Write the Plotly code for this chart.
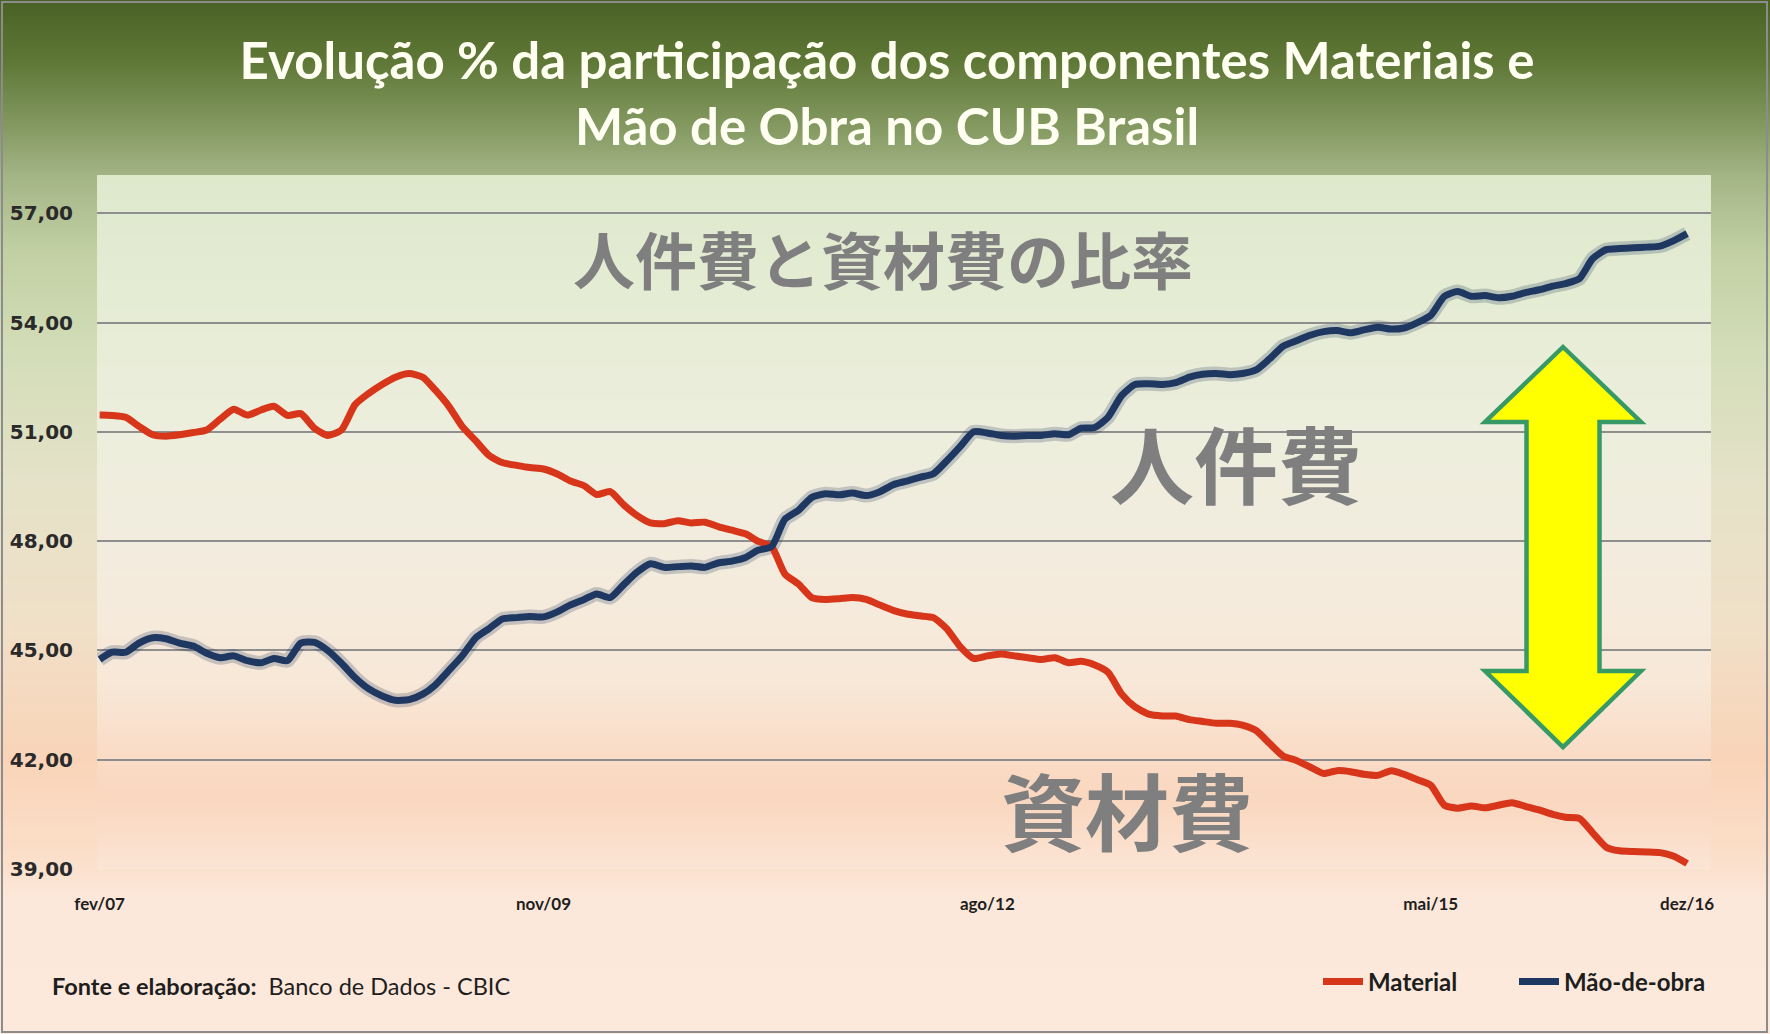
import base64
import struct
import zlib

import pandas as pd
import plotly.graph_objects as go

# ---------------- data ----------------
months = pd.date_range("2007-02-01", "2016-12-01", freq="MS")

material = [
    51.46, 51.45, 51.40, 51.15, 50.92, 50.88, 50.92, 50.98, 51.05, 51.35,
    51.62, 51.46, 51.60, 51.70, 51.45, 51.50, 51.10, 50.90, 51.05, 51.75,
    52.05, 52.30, 52.50, 52.60, 52.50, 52.15, 51.70, 51.15, 50.75, 50.35,
    50.15, 50.08, 50.02, 49.98, 49.85, 49.65, 49.52, 49.28, 49.36, 49.00,
    48.70, 48.50, 48.48, 48.56, 48.50, 48.52, 48.40, 48.30, 48.20, 48.00,
    47.85, 47.10, 46.82, 46.45, 46.40, 46.42, 46.45, 46.40, 46.25, 46.10,
    46.00, 45.95, 45.90, 45.60, 45.10, 44.78, 44.85, 44.90, 44.85, 44.80,
    44.75, 44.80, 44.66, 44.70, 44.60, 44.40, 43.80, 43.45, 43.25, 43.20,
    43.20, 43.10, 43.05, 43.00, 43.00, 42.95, 42.80, 42.45, 42.10, 41.98,
    41.80, 41.62, 41.70, 41.67, 41.60, 41.57, 41.70, 41.60, 41.45, 41.30,
    40.75, 40.67, 40.73, 40.68, 40.75, 40.82, 40.72, 40.62, 40.50, 40.42,
    40.39, 40.00, 39.60, 39.50, 39.48, 39.47, 39.45, 39.35, 39.15,
]

mao_de_obra = [
    44.75, 44.95, 44.95, 45.20, 45.35, 45.32, 45.20, 45.12, 44.92, 44.80,
    44.85, 44.72, 44.66, 44.78, 44.72, 45.20, 45.22, 45.00, 44.65, 44.25,
    43.95, 43.75, 43.63, 43.65, 43.80, 44.05, 44.45, 44.85, 45.35, 45.60,
    45.87, 45.90, 45.93, 45.92, 46.05, 46.25, 46.40, 46.55, 46.45, 46.80,
    47.15, 47.38, 47.28, 47.30, 47.32, 47.28, 47.40, 47.45, 47.55, 47.75,
    47.85, 48.60, 48.85, 49.20, 49.30, 49.27, 49.32, 49.25, 49.35, 49.55,
    49.65, 49.75, 49.85, 50.20, 50.60, 51.00, 50.97, 50.90, 50.88, 50.90,
    50.90, 50.95, 50.92, 51.10, 51.12, 51.40, 52.00, 52.30, 52.32, 52.30,
    52.35, 52.50, 52.58, 52.60, 52.57, 52.60, 52.70, 53.00, 53.35, 53.50,
    53.65, 53.75, 53.78, 53.72, 53.80, 53.87, 53.82, 53.85, 54.00, 54.20,
    54.72, 54.85, 54.72, 54.74, 54.68, 54.72, 54.82, 54.90, 55.00, 55.07,
    55.20, 55.75, 56.00, 56.03, 56.05, 56.07, 56.10, 56.25, 56.44,
]

tick_dates = ["2007-02-01", "2009-11-01", "2012-08-01", "2015-05-01", "2016-12-01"]
tick_labels = ["fev/07", "nov/09", "ago/12", "mai/15", "dez/16"]
y_ticks = [39, 42, 45, 48, 51, 54, 57]

series_names = ["Material", "Mão-de-obra"]
series_colors = ["#D8361A", "#1F3862"]

title_text = "Evolução % da participação dos componentes Materiais e<br>Mão de Obra no CUB Brasil"
source_text = "<b>Fonte e elaboração:</b>\u00a0\u00a0Banco de Dados - CBIC"
jp_title = "人件費と資材費の比率"
jp_labor = "人件費"
jp_material = "資材費"

# ---------------- geometry helpers ----------------
W, H = 1770, 1034
PL, PR, PT, PB = 97, 1711, 175, 869  # plot area in pixels


def px(x):
    return (x - PL) / (PR - PL)


def py(y):
    return (PB - y) / (PB - PT)


def lerp_stops(stops, n, y0):
    rows = []
    for i in range(n):
        y = y0 + i
        for (ya, ca), (yb, cb) in zip(stops[:-1], stops[1:]):
            if ya <= y <= yb:
                t = (y - ya) / (yb - ya) if yb > ya else 0
                rows.append(tuple(int(round(a + (b - a) * t)) for a, b in zip(ca, cb)))
                break
        else:
            rows.append(stops[-1][1] if y > stops[-1][0] else stops[0][1])
    return rows


def png_uri(rows):
    raw = b"".join(b"\x00" + bytes(c) for c in rows)

    def chunk(tag, data):
        return (struct.pack(">I", len(data)) + tag + data
                + struct.pack(">I", zlib.crc32(tag + data) & 0xFFFFFFFF))

    png = (b"\x89PNG\r\n\x1a\n"
           + chunk(b"IHDR", struct.pack(">IIBBBBB", 1, len(rows), 8, 2, 0, 0, 0))
           + chunk(b"IDAT", zlib.compress(raw))
           + chunk(b"IEND", b""))
    return "data:image/png;base64," + base64.b64encode(png).decode()


outer_stops = [
    (0, (74, 97, 37)), (60, (94, 119, 54)), (120, (128, 150, 93)),
    (175, (163, 180, 133)), (250, (193, 208, 163)), (350, (211, 221, 184)),
    (480, (228, 226, 200)), (620, (240, 224, 200)), (760, (249, 212, 184)),
    (850, (251, 222, 200)), (900, (252, 232, 218)), (1034, (252, 233, 219)),
]
inner_stops = [
    (175, (222, 233, 204)), (300, (229, 236, 212)), (430, (237, 238, 221)),
    (560, (243, 236, 222)), (680, (248, 232, 216)), (760, (250, 219, 197)),
    (800, (250, 215, 191)), (869, (251, 229, 213)),
]
outer_img = png_uri(lerp_stops(outer_stops, H, 0))
inner_img = png_uri(lerp_stops(inner_stops, PB - PT, PT))

# ---------------- figure ----------------
fig = go.Figure()

# soft glow under the labour line
fig.add_trace(go.Scatter(
    x=months, y=mao_de_obra, mode="lines", showlegend=False, hoverinfo="skip",
    line=dict(color="rgba(25,45,85,0.22)", width=14, shape="spline", smoothing=0.6),
))
for name, vals, col in zip(series_names, [material, mao_de_obra], series_colors):
    fig.add_trace(go.Scatter(
        x=months, y=vals, name=name, mode="lines",
        line=dict(color=col, width=7, shape="spline", smoothing=0.6),
    ))

# double arrow (pixel outline converted to paper coords)
cx, hw, sw = 1563, 78, 36.5
pts = [(cx, 347), (cx + hw, 422), (cx + sw, 422), (cx + sw, 671), (cx + hw, 671),
       (cx, 747), (cx - hw, 671), (cx - sw, 671), (cx - sw, 422), (cx - hw, 422)]
path = "M " + " L ".join(f"{px(x):.5f},{py(y):.5f}" for x, y in pts) + " Z"

shapes = [
    dict(type="path", path=path, xref="paper", yref="paper", layer="above",
         fillcolor="#FFFF00", line=dict(color="#379A66", width=4.5)),
    dict(type="rect", xref="paper", yref="paper", layer="above",
         x0=px(2), x1=px(W - 3), y0=py(H - 2), y1=py(2),
         line=dict(color="#8C8C8C", width=2), fillcolor="rgba(0,0,0,0)"),
]

images = [
    dict(source=outer_img, xref="paper", yref="paper", x=px(0), y=py(0),
         sizex=W / (PR - PL), sizey=H / (PB - PT), sizing="stretch",
         xanchor="left", yanchor="top", layer="below"),
    dict(source=inner_img, xref="paper", yref="paper", x=0, y=1,
         sizex=1, sizey=1, sizing="stretch", xanchor="left", yanchor="top", layer="below"),
]

jp_font = "Noto Sans CJK JP"
annotations = [
    dict(text=f"<b>{jp_title}</b>", x=px(883), y=py(258), xref="paper", yref="paper",
         xanchor="center", yanchor="middle", showarrow=False,
         font=dict(family=jp_font, size=62, color="#7F7F7F")),
    dict(text=f"<b>{jp_labor}</b>", x=px(1236), y=py(461), xref="paper", yref="paper",
         xanchor="center", yanchor="middle", showarrow=False,
         font=dict(family=jp_font, size=84, color="#7F7F7F")),
    dict(text=f"<b>{jp_material}</b>", x=px(1127), y=py(808), xref="paper", yref="paper",
         xanchor="center", yanchor="middle", showarrow=False,
         font=dict(family=jp_font, size=84, color="#7F7F7F")),
    dict(text=source_text, x=px(50), y=py(986), xref="paper", yref="paper",
         xanchor="left", yanchor="middle", showarrow=False,
         font=dict(family="Lato", size=23.5, color="#1E1E1E")),
]

fig.update_layout(
    width=W, height=H,
    margin=dict(l=PL, r=W - PR, t=PT, b=H - PB, autoexpand=False),
    paper_bgcolor="#FCE9DA",
    plot_bgcolor="rgba(0,0,0,0)",
    separators=", ",
    title=dict(text=f"<b>{title_text}</b>", x=887 / W, xref="container", xanchor="center",
               y=1 - 79 / H, yref="container", yanchor="middle",
               font=dict(family="Lato", size=51, color="#FFFFF2")),
    xaxis=dict(
        range=["2007-01-26", "2017-01-24"], tickvals=tick_dates, ticktext=tick_labels,
        showgrid=False, zeroline=False, showline=False,
        ticks="outside", ticklen=20, tickcolor="rgba(0,0,0,0)",
        tickfont=dict(family="Lato", size=17, color="#1E1E1E", weight="bold"),
    ),
    yaxis=dict(
        range=[39, 58.05], tickvals=y_ticks, tickformat=".2f",
        showgrid=True, gridcolor="#8E8E8E", gridwidth=1.6, zeroline=False, showline=False,
        ticks="outside", ticklen=19, tickcolor="rgba(0,0,0,0)",
        tickfont=dict(family="DejaVu Sans", size=20, color="#2A2A2A", weight="bold"),
    ),
    legend=dict(
        orientation="h", xref="container", yref="container",
        x=1318 / W, y=1 - 982 / H, xanchor="left", yanchor="middle",
        bgcolor="rgba(0,0,0,0)", entrywidth=141, entrywidthmode="pixels",
        font=dict(family="Lato", size=24, color="#1E1E1E", weight="bold"), itemwidth=40,
    ),
    shapes=shapes,
    images=images,
    annotations=annotations,
    showlegend=True,
)

fig.write_html(
    "out.html",
    config={"displayModeBar": False},
    post_script="document.body.style.margin='0';document.body.style.overflow='hidden';",
)
